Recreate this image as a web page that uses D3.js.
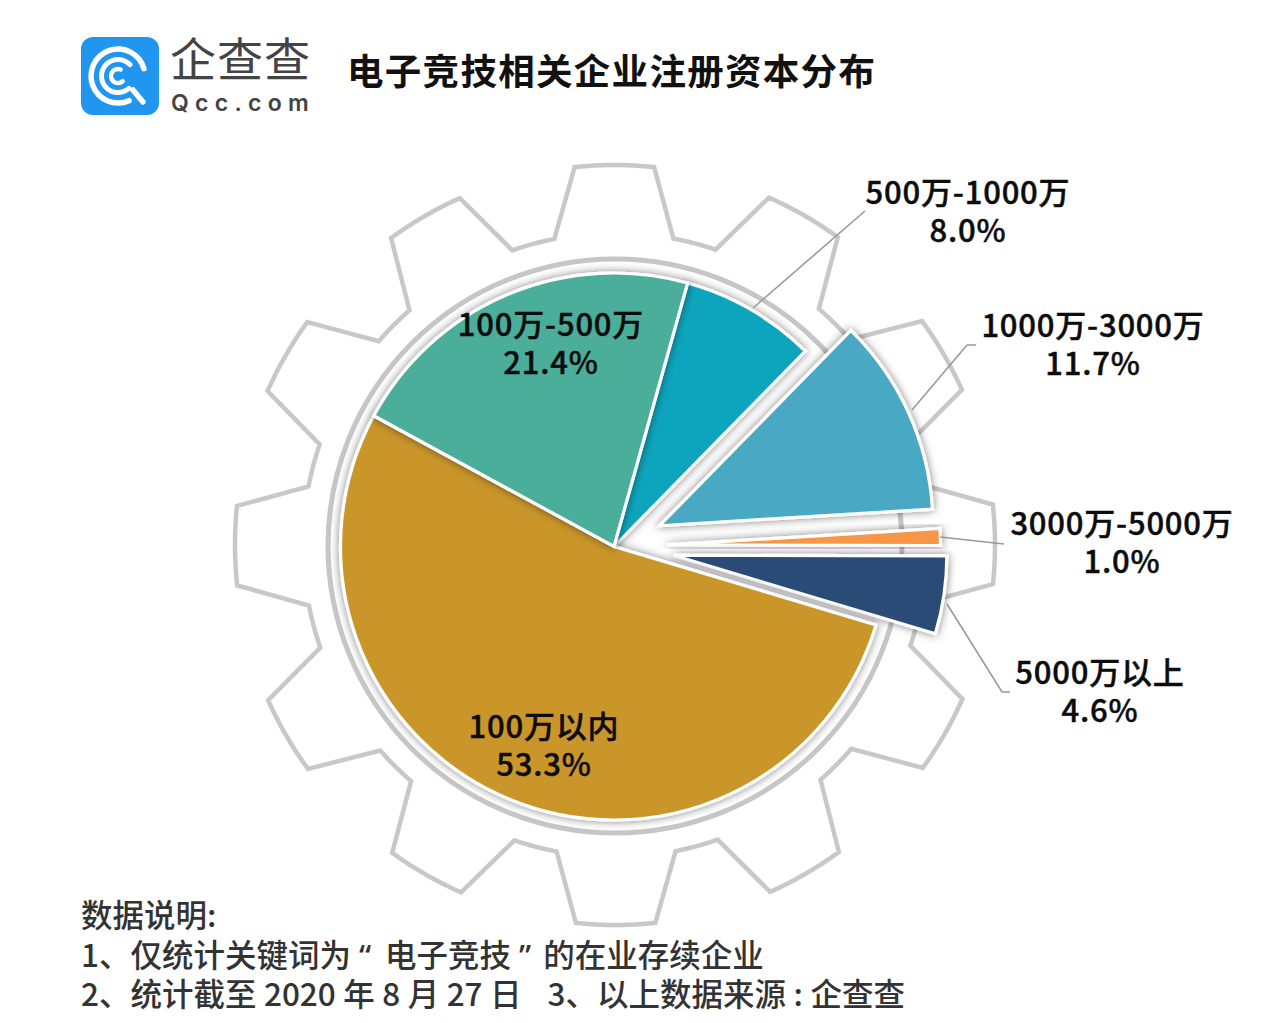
<!DOCTYPE html>
<html><head><meta charset="utf-8">
<script src="https://cdn.jsdelivr.net/npm/d3@7"></script>
<style>html,body{margin:0;padding:0;background:#fff}svg{display:block}text{font-family:"Noto Sans CJK SC","Noto Sans",sans-serif}</style>
</head><body><svg id="c" width="1268" height="1023"></svg>
<script>
const categories=["500万-1000万","1000万-3000万","3000万-5000万","5000万以上","100万以内","100万-500万"];
const values=[8.0,11.7,1.0,4.6,53.3,21.4];
const valueLabels=["8.0%","11.7%","1.0%","4.6%","53.3%","21.4%"];
const colors=["#0ea5bd","#4aa8c4","#f79646","#2a4b75","#ca962c","#4bae9b"];
const explode=[0,50,53,60,0,0];
const startDeg=15.6;
const labelPos=[[968,204],[1093,337],[1122,535],[1100,684],[544,738],[551,336]];
const elbows=[[[865,211],[753,308]],[[976,345],[967,345],[912,410]],[[1004,544],[940,537]],[[1010,692],[1002,692],[947,604]],null,null];
const noteLine1=["1、仅统计关键词为","“","电子竞技","”","的在业存续企业"];
const noteLine1Gaps=[0,8,14,8,12];
const noteHead="数据说明:";
const noteLine2=["2、统计截至 2020 年 8 月 27 日","3、以上数据来源 : 企查查"];
const noteLine2Gaps=[0,26];
const title="电子竞技相关企业注册资本分布";

const svg=d3.select("#c"),rad=d=>d*Math.PI/180;
const defs=svg.append("defs");
const f=defs.append("filter").attr("id","sh").attr("x","-20%").attr("y","-20%").attr("width","140%").attr("height","140%");
f.append("feDropShadow").attr("dx",0).attr("dy",0).attr("stdDeviation",4.5).attr("flood-color","#000").attr("flood-opacity",.5);

// gear
const gx=615,gy=545,rOut=380,rIn=312,teeth=12,topHalf=6.1,baseHalf=10.8;
const gearPts=[];
for(let t=0;t<teeth;t++){
  const a=t*360/teeth;
  d3.range(-topHalf,topHalf+.01,1).forEach(o=>gearPts.push([rad(a+o),rOut]));
  d3.range(baseHalf,30-baseHalf+.01,1).forEach(o=>gearPts.push([rad(a+o),rIn]));
}
svg.append("path").attr("transform",`translate(${gx},${gy})`)
  .attr("d",d3.lineRadial().angle(d=>d[0]).radius(d=>d[1]).curve(d3.curveLinearClosed)(gearPts))
  .attr("fill","none").attr("stroke","#c8c8c8").attr("stroke-width",4.5).attr("stroke-linejoin","miter");
svg.append("circle").attr("cx",gx).attr("cy",gy+1).attr("r",287).attr("fill","#fff").attr("stroke","#c6c6c6").attr("stroke-width",5);

// pie
const cx=614,cy=546.5,R=273.5;
const pie=d3.pie().sort(null).startAngle(rad(startDeg)).endAngle(rad(startDeg+360)).value(d=>d);
const arcs=pie(values);
const arc=d3.arc().innerRadius(0).outerRadius(R);
const g=svg.append("g").attr("transform",`translate(${cx},${cy})`);
const line=d3.line();
elbows.forEach(e=>{if(e)svg.append("path").attr("d",line(e)).attr("fill","none").attr("stroke","#9a9a9a").attr("stroke-width",1.6);});
g.selectAll("path.s").data(arcs).join("path").attr("class","s")
  .attr("transform",(d,i)=>{const m=(d.startAngle+d.endAngle)/2;return `translate(${explode[i]*Math.sin(m)},${-explode[i]*Math.cos(m)})`;})
  .attr("d",arc).attr("fill",(d,i)=>colors[i]).attr("stroke","#fff").attr("stroke-width",3.2).attr("stroke-linejoin","miter").attr("filter","url(#sh)");

// labels
categories.forEach((c,i)=>{
  const [x,y]=labelPos[i];
  const t=svg.append("text").attr("text-anchor","middle").attr("font-size",31).attr("font-weight",500).attr("letter-spacing",.8)
    .attr("fill","#0c0c0c").attr("stroke","#0c0c0c").attr("stroke-width",.45);
  t.append("tspan").attr("x",x).attr("y",y).text(c);
  t.append("tspan").attr("x",x).attr("y",y+38).text(valueLabels[i]);
});

// title & notes
svg.append("text").attr("x",347).attr("y",85).attr("font-size",36.5).attr("font-weight",700).attr("letter-spacing",1.3).attr("fill","#111").text(title);
const note=(y)=>svg.append("text").attr("x",81).attr("y",y).attr("font-size",31.5).attr("font-weight",500).attr("fill","#333");
note(927).text(noteHead);
const n1=note(967);
noteLine1.forEach((s,i)=>{const t=n1.append("tspan").attr("dx",noteLine1Gaps[i]).text(s); if(i==1||i==3) t.style("font-family","Noto Sans");});
const n2=note(1006).attr("word-spacing",.4);
noteLine2.forEach((s,i)=>n2.append("tspan").attr("dx",noteLine2Gaps[i]).text(s));

// logo
const L=svg.append("g");
L.append("rect").attr("x",81).attr("y",37).attr("width",78).attr("height",78).attr("rx",12).attr("fill","#2196f0");
const ring=(r,w,a0,a1)=>L.append("path").attr("transform","translate(118,76)").attr("fill","#fff")
  .attr("d",d3.arc().innerRadius(r-w/2).outerRadius(r+w/2).startAngle(rad(a0)).endAngle(rad(a1)).cornerRadius(w/2)());
ring(27,5.5,150,440);ring(16.5,5,130,415);ring(7,4.5,120,400);
L.append("path").attr("d",line([[133,90],[143,102]])).attr("stroke","#fff").attr("stroke-width",5.5).attr("stroke-linecap","round");
L.append("text").attr("x",170).attr("y",76).attr("font-size",46).attr("font-weight",400).attr("letter-spacing",1).attr("fill","#444").text("企查查");
L.append("text").attr("x",171).attr("y",111).attr("font-size",23).attr("font-weight",600).attr("letter-spacing",6.3).attr("fill","#444").style("font-family","Inter").text("Qcc.com");
</script></body></html>
